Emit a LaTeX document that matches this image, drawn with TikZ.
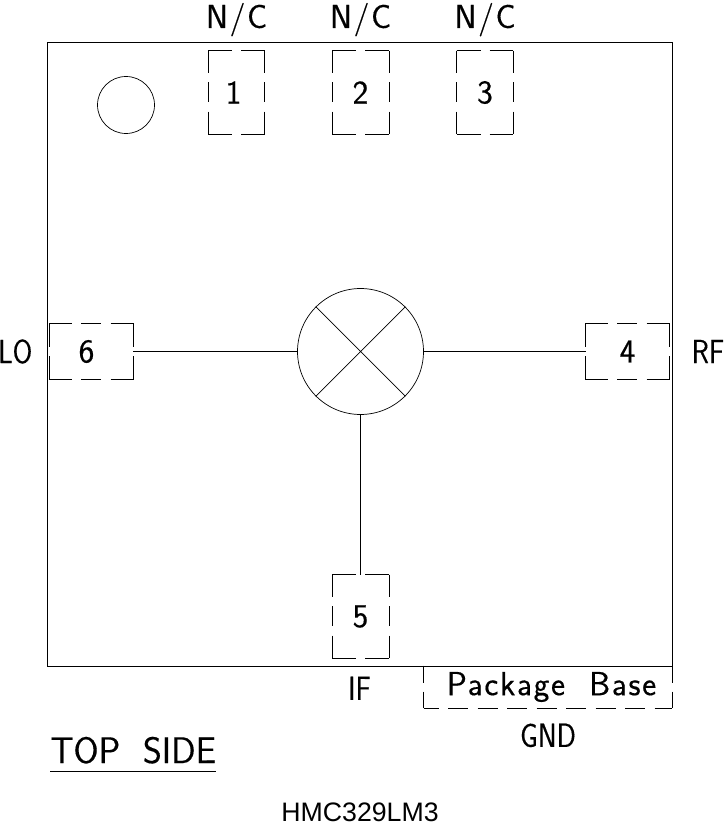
\documentclass[tikz,border=0pt]{standalone}
\usepackage{fontspec}
\usetikzlibrary{positioning}
\newfontfamily\cadfont[LetterSpace=5, WordSpace=2, FakeBold=0.4]{Latin Modern Sans}
\newfontfamily\tagfont[FakeStretch=0.85, FakeBold=0.4]{Latin Modern Sans}
\newfontfamily\titlefont[FakeStretch=0.98, WordSpace=2, FakeBold=0.4]{Latin Modern Sans}
\setmainfont{Liberation Sans}
\tikzset{every node/.style={align=center, inner sep=0pt}, font=\cadfont\fontsize{19}{21}\selectfont, line width=1.1pt,
    tag/.style={font=\tagfont\fontsize{19}{21}\selectfont},
    shortdash/.style={dash pattern=on 0.48cm off 0.18cm},
    longdash/.style={dash pattern=on 0.44cm off 0.19cm on 0.40cm off 0.19cm},
    padtall/.style={minimum width=1.12cm, minimum height=1.66cm, append after command={
        (\tikzlastnode.north west) edge[shortdash] (\tikzlastnode.north east)
        (\tikzlastnode.south west) edge[shortdash] (\tikzlastnode.south east)
        (\tikzlastnode.north west) edge[longdash] (\tikzlastnode.south west)
        (\tikzlastnode.north east) edge[longdash] (\tikzlastnode.south east)}},
    padwide/.style={minimum width=1.66cm, minimum height=1.12cm, append after command={
        (\tikzlastnode.north west) edge[longdash] (\tikzlastnode.north east)
        (\tikzlastnode.south west) edge[longdash] (\tikzlastnode.south east)
        (\tikzlastnode.north west) edge[shortdash] (\tikzlastnode.south west)
        (\tikzlastnode.north east) edge[shortdash] (\tikzlastnode.south east)}}}
\begin{document}
\begin{tikzpicture}[x=0.02cm, y=-0.02cm]
    \useasboundingbox (0,0) rectangle (725,827);
    \node [draw, minimum width=12.5cm, minimum height=12.48cm] (body) at (359.5,354) {};
    \node [draw, circle, minimum size=1.14cm] (dot) at (126,105) {};
    \node [padtall] (p1) at (236.5,92.5) {\kern-0.12cm 1};
    \node [padtall] (p2) at (360.5,92.5) {2};
    \node [padtall] (p3) at (485,92.5) {3};
    \node [padwide] (p6) at (91.5,351.5) {\kern-0.2cm 6};
    \node [padwide] (p4) at (627.5,351.5) {4};
    \node [padtall] (p5) at (360.5,616.5) {5};
    \node [draw, circle, minimum size=2.52cm] (mixer) at (360.5,351.5) {};
    \draw (mixer.45) -- (mixer.225) (mixer.135) -- (mixer.315);
    \draw (mixer) -- (p6) (mixer) -- (p4) (mixer) -- (p5);
    \node [above=0.28cm of p1] (nc1) {N/C};
    \node [above=0.28cm of p2] (nc2) {N/C};
    \node [above=0.28cm of p3] (nc3) {N/C};
    \node [tag, left=0.34cm of p6] (lo) {LO};
    \node [tag, right=0.44cm of p4] (rf) {RF};
    \node [tag, below=0.36cm of p5, xshift=-0.02cm] (if) {IF};
    \node [minimum width=4.96cm, minimum height=0.84cm] (base) at (548,687) {\kern0.14cm Package Base};
    \draw [dash pattern=on 0.34cm off 0.18cm] (base.north west) -- (base.south west);
    \draw [dash pattern=on 0.34cm off 0.18cm] (base.north east) -- (base.south east);
    \draw [dash pattern=on 0.40cm off 0.19cm, dash phase=0.1cm] (base.south west) -- (base.south east);
    \node [tag, below=0.3cm of base] (gnd) {GND};
    \node [font=\titlefont\fontsize{21}{23}\selectfont, anchor=base west, inner ysep=0.14cm] (title) at (50,763) {TOP SIDE};
    \draw (title.south west) -- (title.south east);
    \node [font=\rmfamily\fontsize{15.2}{17}\selectfont] (part) at (360,812) {HMC329LM3};
\end{tikzpicture}
\end{document}
